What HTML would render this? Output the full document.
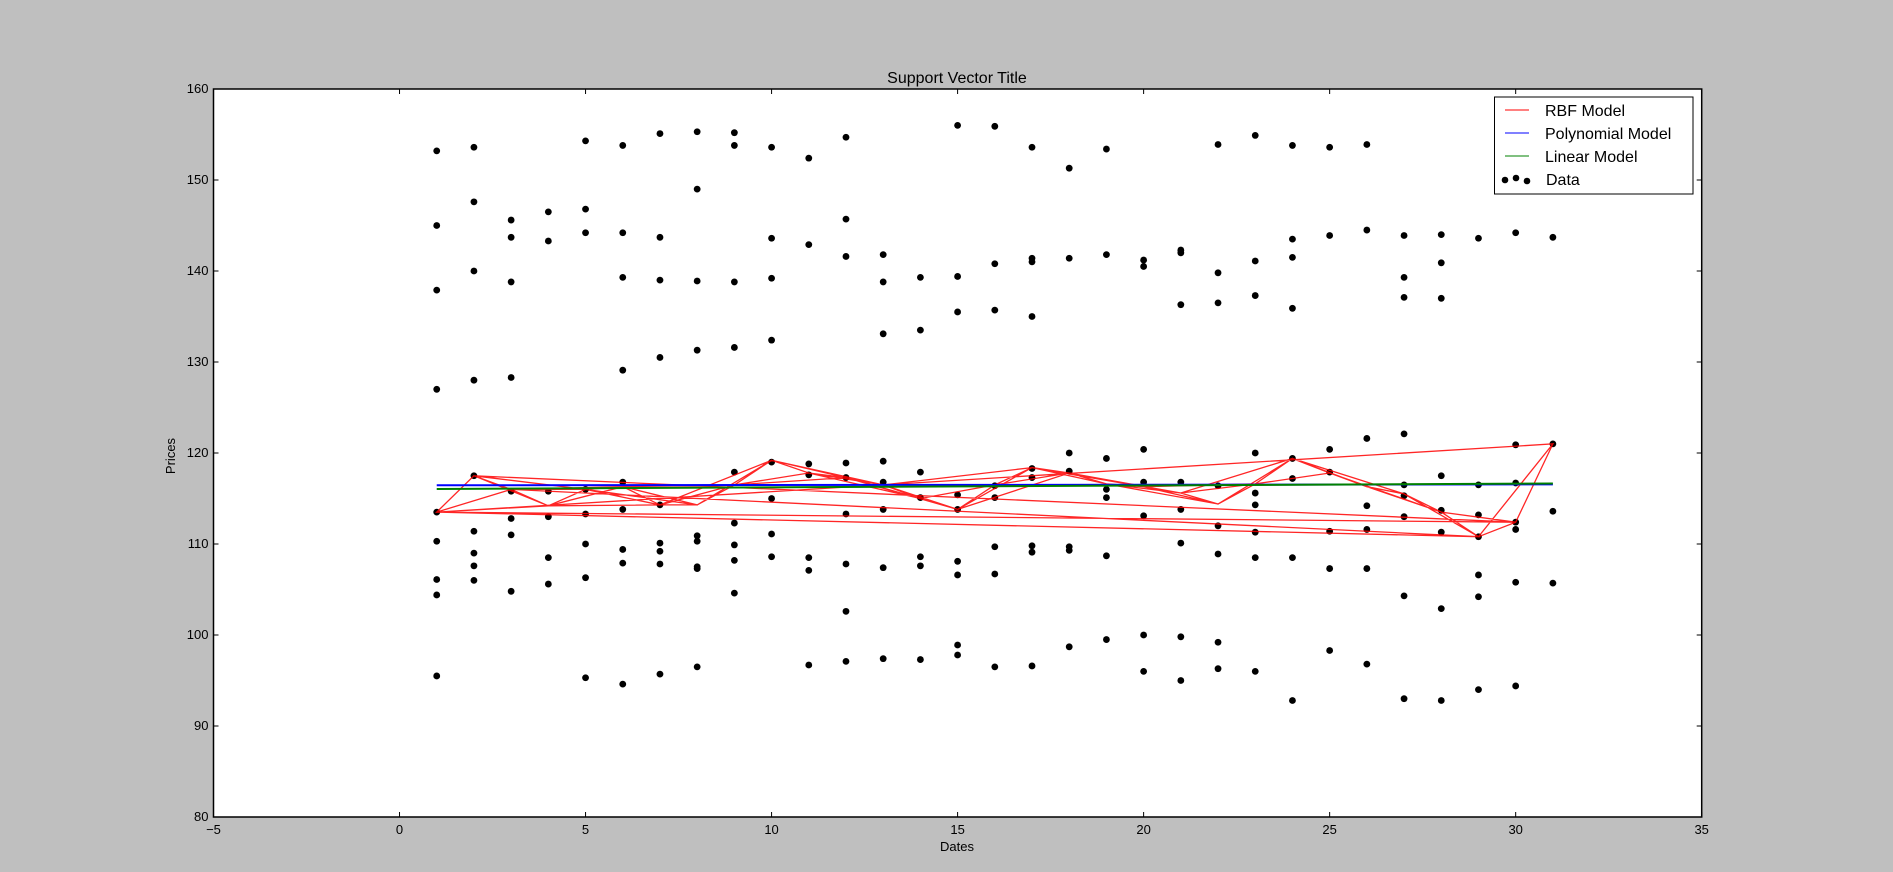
<!DOCTYPE html>
<html><head><meta charset="utf-8"><style>
html,body{margin:0;padding:0;background:#bfbfbf;}
svg{display:block;font-family:"Liberation Sans","DejaVu Sans",sans-serif;}
</style></head><body>
<svg id="chart" width="1893" height="872" xmlns="http://www.w3.org/2000/svg">
<rect x="0" y="0" width="1893" height="872" fill="#bfbfbf"/>
<rect x="213.5" y="89" width="1488.2" height="728" fill="#fff"/>
<g id="marks"></g>
<g id="axes"></g>
<rect x="213.5" y="89" width="1488.2" height="728" fill="none" stroke="#000" stroke-width="1.5"/>
<text x="957" y="83" font-size="16" text-anchor="middle">Support Vector Title</text>
<text x="957" y="851" font-size="13" text-anchor="middle">Dates</text>
<text x="175" y="456" font-size="13" text-anchor="middle" transform="rotate(-90 175 456)">Prices</text>
<g>
<rect x="1494.5" y="97" width="198.5" height="97" fill="#fff" stroke="#000" stroke-width="1"/>
<line x1="1505" y1="110" x2="1529" y2="110" stroke="red" stroke-width="1"/>
<text x="1545" y="116" font-size="16">RBF Model</text>
<line x1="1505" y1="133" x2="1529" y2="133" stroke="blue" stroke-width="1"/>
<text x="1545" y="139" font-size="16">Polynomial Model</text>
<line x1="1505" y1="156" x2="1529" y2="156" stroke="green" stroke-width="1"/>
<text x="1545" y="162" font-size="16">Linear Model</text>
<circle cx="1505" cy="180" r="3.3" fill="#000"/>
<circle cx="1516" cy="178" r="3.3" fill="#000"/>
<circle cx="1527" cy="181" r="3.3" fill="#000"/>
<text x="1546" y="185" font-size="16">Data</text>
</g>
</svg>
<script>
const xTicks = [-5,0,5,10,15,20,25,30,35];
const yTicks = [80,90,100,110,120,130,140,150,160];
const dates = [1,2,3,4,5,6,7,8,9,10,11,12,13,14,15,16,17,18,19,20,21,22,23,24,25,26,27,28,29,30,31];
const prices = [
[153.2,145,137.9,127,113.5,110.3,106.1,104.4,95.5],
[153.6,147.6,140,128,117.5,111.4,109,107.6,106],
[145.6,143.7,138.8,128.3,115.8,112.8,111,104.8],
[146.5,143.3,115.8,113,108.5,105.6],
[154.3,146.8,144.2,116,113.3,110,106.3,95.3],
[153.8,144.2,139.3,129.1,116.8,113.8,109.4,107.9,94.6],
[155.1,143.7,139,130.5,114.3,110.1,109.2,107.8,95.7],
[155.3,149,138.9,131.3,110.9,110.3,107.5,107.3,96.5],
[155.2,153.8,138.8,131.6,117.9,112.3,109.9,108.2,104.6],
[153.6,143.6,139.2,132.4,119,115,111.1,108.6],
[152.4,142.9,118.8,117.6,108.5,107.1,96.7],
[154.7,145.7,141.6,118.9,117.3,113.3,107.8,102.6,97.1],
[141.8,138.8,133.1,119.1,116.8,113.8,107.4,97.4],
[139.3,133.5,117.9,115.1,108.6,107.6,97.3],
[156,139.4,135.5,115.4,113.8,108.1,106.6,98.9,97.8],
[155.9,140.8,135.7,116.4,115.1,109.7,106.7,96.5],
[153.6,141.4,141,135,118.3,117.3,109.8,109.1,96.6],
[151.3,141.4,120,118,109.7,109.3,98.7],
[153.4,141.8,119.4,116,115.1,108.7,99.5],
[141.2,140.5,120.4,116.8,113.1,100,96],
[142.3,142,136.3,116.8,113.8,110.1,99.8,95],
[153.9,139.8,136.5,116.4,112,108.9,99.2,96.3],
[154.9,141.1,137.3,120,115.6,114.3,111.3,108.5,96],
[153.8,143.5,141.5,135.9,119.4,117.2,108.5,92.8],
[153.6,143.9,120.4,117.9,111.4,107.3,98.3],
[153.9,144.5,121.6,114.2,111.6,107.3,96.8],
[143.9,139.3,137.1,122.1,116.5,115.3,113,104.3,93],
[144,140.9,137,117.5,113.7,111.3,102.9,92.8],
[143.6,116.5,113.2,110.8,106.6,104.2,94],
[144.2,120.9,116.7,112.4,111.6,105.8,94.4],
[143.7,121,113.6,105.7]
];
const rbfPred = [113.5,117.5,116,114.2,116,116.3,114.3,114.3,116.5,119.2,117.8,117.3,116.5,115,113.8,116.5,118.4,117.8,116.6,116.3,115.6,114.4,116.6,119.4,117.8,116.3,115.5,113.5,110.8,112.4,121];
const rbfOrder = [1,2,3,4,5,6,7,8,9,10,11,12,13,14,15,16,17,18,19,20,21,22,23,24,25,26,27,28,29,30,31,1,2,5,8,10,13,15,17,20,22,24,27,29,30,1,3,6,9,12,14,16,18,21,23,25,28,30,31,1,4,7,10,11,13,17,19,22,24,26,28,29,1,30,2,4,6,8,10,12,15,18,20,23,24,27,29,31,1,29,3,5,7,9,11,14,16,17,19,21,24,25,28,30];
const polyDates = [1,31];
const polyVals = [116.45,116.55];
const linVals = [116.05,116.65];

const X0=213.5, X1=1701.7, Y0=817, Y1=89;
const xs = v => X0 + (v+5)/40*(X1-X0);
const ys = v => Y0 - (v-80)/80*(Y0-Y1);
const NS="http://www.w3.org/2000/svg";
const axes=document.getElementById('axes'), marks=document.getElementById('marks');
function mk(tag,attrs,parent){const e=document.createElementNS(NS,tag);for(const k in attrs)e.setAttribute(k,attrs[k]);parent.appendChild(e);return e;}

xTicks.forEach(t=>{
  const x=xs(t);
  const a=mk('line',{x1:x,y1:Y0,x2:x,y2:Y0-5,stroke:'#000'},axes);
  
  
  const b=mk('line',{x1:x,y1:Y1,x2:x,y2:Y1+5,stroke:'#000'},axes);
  
  
  const l=mk('text',{x:x,y:Y0+17,'font-size':13,'text-anchor':'middle'},axes);
  l.textContent=t<0?'\u2212'+Math.abs(t):String(t);
  
  
});
yTicks.forEach(t=>{
  const y=ys(t);
  const a=mk('line',{x1:X0,y1:y,x2:X0+5,y2:y,stroke:'#000'},axes);
  
  
  const b=mk('line',{x1:X1,y1:y,x2:X1-5,y2:y,stroke:'#000'},axes);
  
  
  const l=mk('text',{x:X0-5,y:y+4,'font-size':13,'text-anchor':'end'},axes);
  l.textContent=String(t);
  
  
});

dates.forEach((d,i)=>{
  prices[i].forEach(p=>{
    const c=mk('circle',{cx:xs(d),cy:ys(p),r:3.4,fill:'#000'},marks);
    
    
  });
});

const rbfPts = rbfOrder.map(d=>xs(d).toFixed(1)+','+ys(rbfPred[d-1]).toFixed(1)).join(' ');
const rbf=mk('polyline',{points:rbfPts,fill:'none',stroke:'red','stroke-width':1.3,'stroke-opacity':0.85},marks);



const poly=mk('polyline',{points:polyDates.map((d,i)=>xs(d)+','+ys(polyVals[i])).join(' '),fill:'none',stroke:'blue','stroke-width':2},marks);


const lin=mk('polyline',{points:polyDates.map((d,i)=>xs(d)+','+ys(linVals[i])).join(' '),fill:'none',stroke:'green','stroke-width':2},marks);


</script>
</body></html>
